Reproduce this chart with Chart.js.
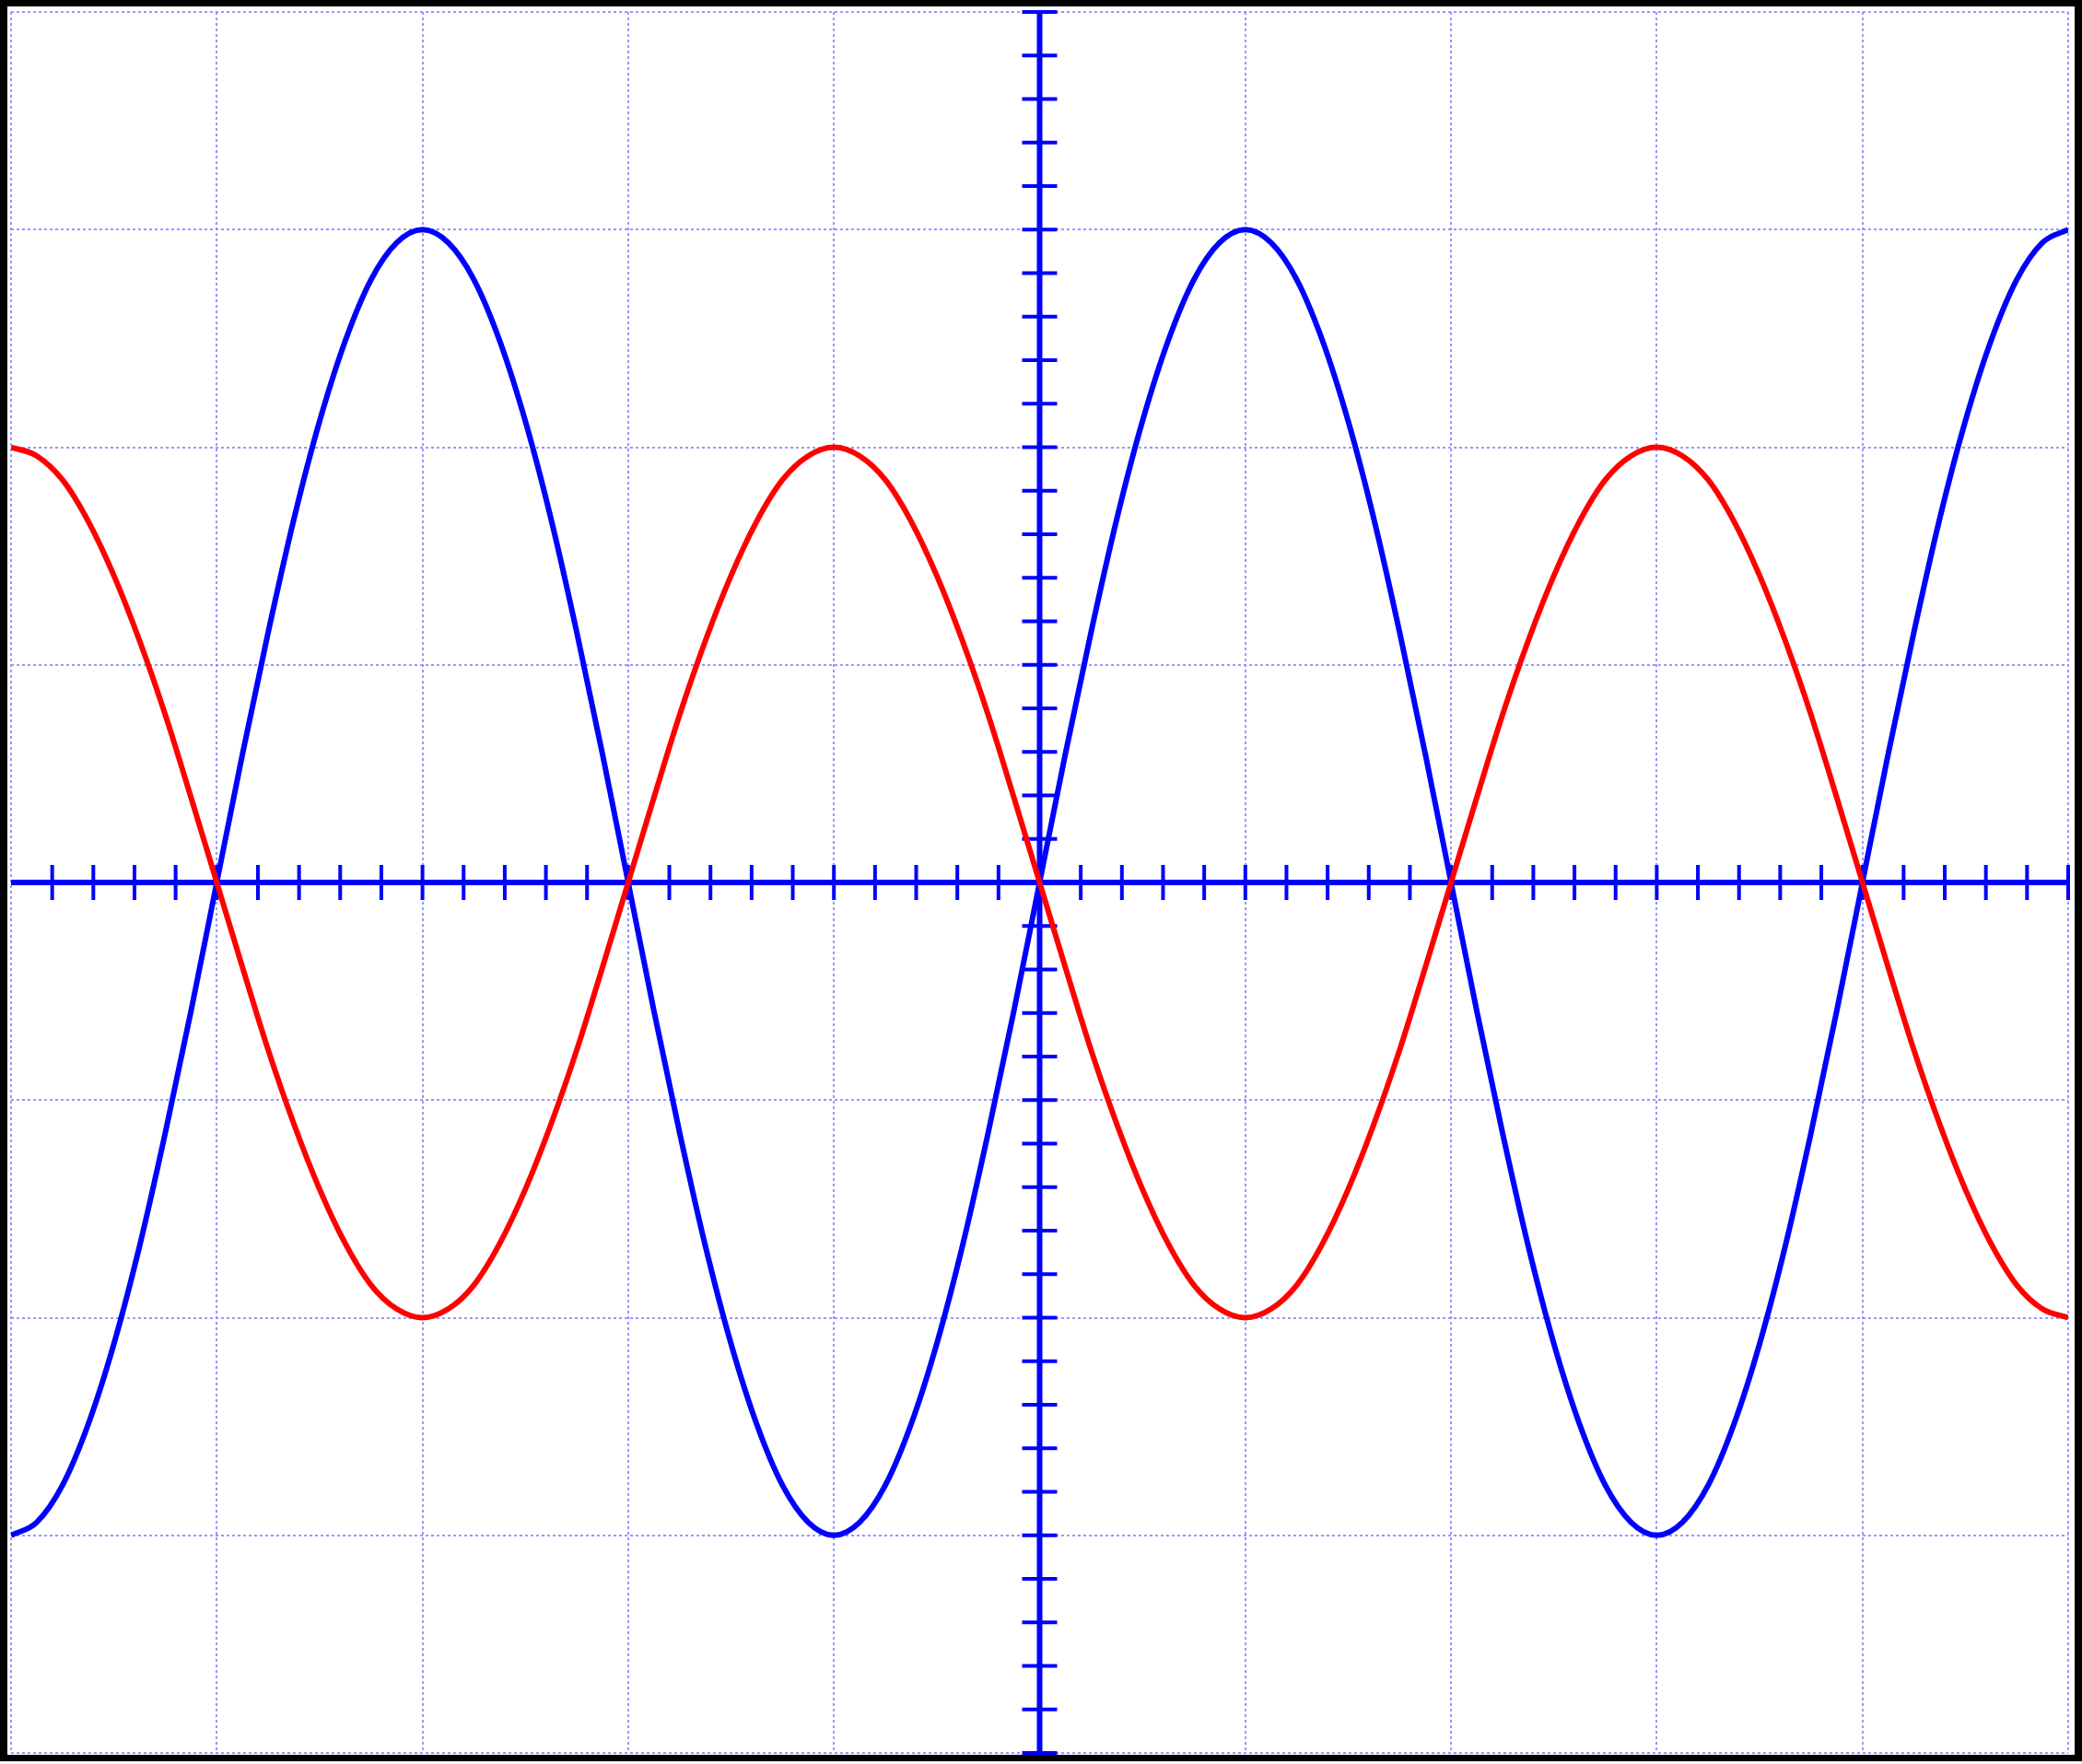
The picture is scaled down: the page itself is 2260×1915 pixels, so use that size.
<!DOCTYPE html>
<html>
<head>
<meta charset="utf-8">
<script src="https://cdn.jsdelivr.net/npm/chart.js@4.4.1/dist/chart.umd.min.js"></script>
<style>
    html, body { margin: 0; padding: 0; background: #f4f4f4; }
    #frame { position: absolute; left: 0; top: 0; width: 2260px; height: 1912px; background: #000; }
    #paper { position: absolute; left: 8px; top: 7px; width: 2244px; height: 1898px; background: #fff; }
    #wrap { position: absolute; left: 0; top: 0; width: 2260px; height: 1915px; }
</style>
</head>
<body>
<div id="frame"><div id="paper"></div></div>
<div id="wrap"><canvas id="chart"></canvas></div>
<script>
// x positions (grid units) and the two waves
const xs = [
    -5, -4.875, -4.75, -4.625, -4.5, -4.375, -4.25, -4.125, -4, -3.875, -3.75, -3.625, -3.5, -3.375, -3.25, -3.125,
    -3, -2.875, -2.75, -2.625, -2.5, -2.375, -2.25, -2.125, -2, -1.875, -1.75, -1.625, -1.5, -1.375, -1.25, -1.125,
    -1, -0.875, -0.75, -0.625, -0.5, -0.375, -0.25, -0.125, 0, 0.125, 0.25, 0.375, 0.5, 0.625, 0.75, 0.875,
    1, 1.125, 1.25, 1.375, 1.5, 1.625, 1.75, 1.875, 2, 2.125, 2.25, 2.375, 2.5, 2.625, 2.75, 2.875,
    3, 3.125, 3.25, 3.375, 3.5, 3.625, 3.75, 3.875, 4, 4.125, 4.25, 4.375, 4.5, 4.625, 4.75, 4.875,
    5
];
const blueWave = [
    -3, -2.94, -2.77, -2.49, -2.12, -1.67, -1.15, -0.59, 0, 0.59, 1.15, 1.67, 2.12, 2.49, 2.77, 2.94,
    3, 2.94, 2.77, 2.49, 2.12, 1.67, 1.15, 0.59, 0, -0.59, -1.15, -1.67, -2.12, -2.49, -2.77, -2.94,
    -3, -2.94, -2.77, -2.49, -2.12, -1.67, -1.15, -0.59, 0, 0.59, 1.15, 1.67, 2.12, 2.49, 2.77, 2.94,
    3, 2.94, 2.77, 2.49, 2.12, 1.67, 1.15, 0.59, 0, -0.59, -1.15, -1.67, -2.12, -2.49, -2.77, -2.94,
    -3, -2.94, -2.77, -2.49, -2.12, -1.67, -1.15, -0.59, 0, 0.59, 1.15, 1.67, 2.12, 2.49, 2.77, 2.94,
    3
];
const redWave = [
    2, 1.96, 1.85, 1.66, 1.41, 1.11, 0.77, 0.39, 0, -0.39, -0.77, -1.11, -1.41, -1.66, -1.85, -1.96,
    -2, -1.96, -1.85, -1.66, -1.41, -1.11, -0.77, -0.39, 0, 0.39, 0.77, 1.11, 1.41, 1.66, 1.85, 1.96,
    2, 1.96, 1.85, 1.66, 1.41, 1.11, 0.77, 0.39, 0, -0.39, -0.77, -1.11, -1.41, -1.66, -1.85, -1.96,
    -2, -1.96, -1.85, -1.66, -1.41, -1.11, -0.77, -0.39, 0, 0.39, 0.77, 1.11, 1.41, 1.66, 1.85, 1.96,
    2, 1.96, 1.85, 1.66, 1.41, 1.11, 0.77, 0.39, 0, -0.39, -0.77, -1.11, -1.41, -1.66, -1.85, -1.96,
    -2
];

const xRange = [-5, 5];
const yRange = [-4, 4];
const minorStep = 0.2;

const gridColor = 'rgba(140, 140, 255, 0.9)';
const axisColor = '#0000ff';

// blue cross axes with small tick marks, drawn under the curves
const centerAxes = {
    id: 'centerAxes',
    beforeDatasetsDraw(chart) {
        const ctx = chart.ctx;
        const x = chart.scales.x;
        const y = chart.scales.y;
        const area = chart.chartArea;
        const x0 = x.getPixelForValue(0);
        const y0 = y.getPixelForValue(0);
        const tick = 19;

        ctx.save();
        ctx.strokeStyle = axisColor;
        ctx.lineWidth = 6;
        ctx.beginPath();
        ctx.moveTo(area.left, y0);
        ctx.lineTo(area.right, y0);
        ctx.moveTo(x0, area.top);
        ctx.lineTo(x0, area.bottom);
        ctx.stroke();

        ctx.lineWidth = 4;
        ctx.beginPath();
        const nx = Math.round((xRange[1] - xRange[0]) / minorStep);
        for (let i = 1; i <= nx; i++) {
            const px = x.getPixelForValue(xRange[0] + i * minorStep);
            ctx.moveTo(px, y0 - tick);
            ctx.lineTo(px, y0 + tick);
        }
        const ny = Math.round((yRange[1] - yRange[0]) / minorStep);
        for (let i = 0; i <= ny; i++) {
            const py = y.getPixelForValue(yRange[0] + i * minorStep);
            ctx.moveTo(x0 - tick, py);
            ctx.lineTo(x0 + tick, py);
        }
        ctx.stroke();
        ctx.restore();
    }
};

const points = ys => xs.map((x, i) => ({ x: x, y: ys[i] }));

new Chart(document.getElementById('chart'), {
    type: 'line',
    data: {
        datasets: [
            {
                label: 'red',
                data: points(redWave),
                borderColor: '#ff0000',
                borderWidth: 6,
                pointRadius: 0,
                cubicInterpolationMode: 'monotone'
            },
            {
                label: 'blue',
                data: points(blueWave),
                borderColor: '#0000ff',
                borderWidth: 6,
                pointRadius: 0,
                cubicInterpolationMode: 'monotone'
            }
        ]
    },
    options: {
        responsive: true,
        maintainAspectRatio: false,
        animation: false,
        layout: {
            padding: { left: 12, top: 13, right: 15, bottom: 12 }
        },
        plugins: {
            legend: { display: false },
            tooltip: { enabled: false }
        },
        scales: {
            x: {
                type: 'linear',
                min: xRange[0],
                max: xRange[1],
                ticks: { stepSize: 1, display: false },
                grid: { color: gridColor, lineWidth: 2, drawTicks: false },
                border: { display: false, dash: [3, 3] }
            },
            y: {
                type: 'linear',
                min: yRange[0],
                max: yRange[1],
                ticks: { stepSize: 1, display: false },
                grid: { color: gridColor, lineWidth: 2, drawTicks: false },
                border: { display: false, dash: [3, 3] }
            }
        }
    },
    plugins: [centerAxes]
});
</script>
</body>
</html>
